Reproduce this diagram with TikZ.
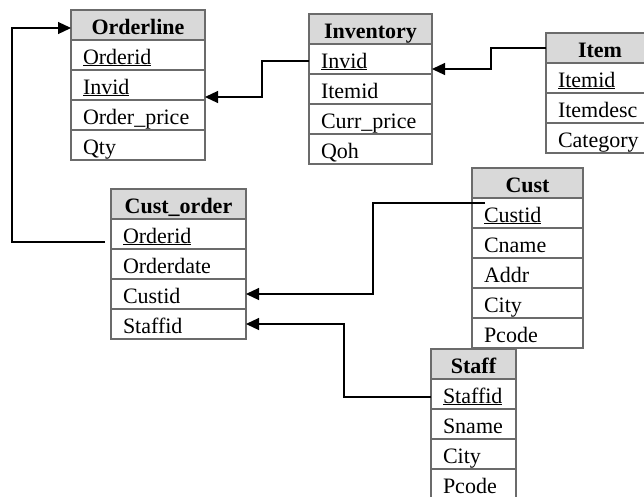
\documentclass[tikz,border=0pt]{standalone}
\usepackage{fontspec}
\setmainfont{Liberation Serif}
\usetikzlibrary{positioning,calc,arrows.meta}
\definecolor{boxgray}{HTML}{6B6B6B}
\definecolor{headgray}{HTML}{D9D9D9}
\tikzset{
	cell/.style={draw=boxgray, line width=1.5pt, outer sep=0pt, inner xsep=12pt, inner ysep=3pt,
		minimum height=30pt, text height=21pt, text depth=3pt, font=\fontsize{22}{26}\selectfont},
	head/.style={cell, fill=headgray, align=center, font=\fontsize{22}{26}\selectfont\bfseries},
	field/.style={cell, align=left},
	fk/.style={line width=1.2pt, -{Triangle[length=13pt,width=12pt]}},
	link/.style={line width=1.2pt}
}
\begin{document}
\begin{tikzpicture}[x=1pt,y=-1pt]
				\clip (0,0) rectangle (644,496);
				
				% Orderline
				\node[head, minimum width=134pt, anchor=north west] (ol-h) at (71,10) {Orderline};
				\node[field, text width=110pt, below=0pt of ol-h] (ol-1) {\underline{Orderid}};
				\node[field, text width=110pt, below=0pt of ol-1] (ol-2) {\underline{Invid}};
				\node[field, text width=110pt, below=0pt of ol-2] (ol-3) {Order\_price};
				\node[field, text width=110pt, below=0pt of ol-3] (ol-4) {Qty};
				
				% Inventory
				\node[head, minimum width=123pt, anchor=north west] (inv-h) at (309,14) {Inventory};
				\node[field, text width=99pt, below=0pt of inv-h] (inv-1) {\underline{Invid}};
				\node[field, text width=99pt, below=0pt of inv-1] (inv-2) {Itemid};
				\node[field, text width=99pt, below=0pt of inv-2] (inv-3) {Curr\_price};
				\node[field, text width=99pt, below=0pt of inv-3] (inv-4) {Qoh};
				
				% Item
				\node[head, minimum width=108pt, anchor=north west] (item-h) at (546,33) {Item};
				\node[field, text width=84pt, below=0pt of item-h] (item-1) {\underline{Itemid}};
				\node[field, text width=84pt, below=0pt of item-1] (item-2) {Itemdesc};
				\node[field, text width=84pt, below=0pt of item-2] (item-3) {Category};
				
				% Cust_order
				\node[head, minimum width=135pt, anchor=north west] (co-h) at (111,189) {Cust\_order};
				\node[field, text width=111pt, below=0pt of co-h] (co-1) {\underline{Orderid}};
				\node[field, text width=111pt, below=0pt of co-1] (co-2) {Orderdate};
				\node[field, text width=111pt, below=0pt of co-2] (co-3) {Custid};
				\node[field, text width=111pt, below=0pt of co-3] (co-4) {Staffid};
				
				% Cust
				\node[head, minimum width=111pt, anchor=north west] (cu-h) at (472,168) {Cust};
				\node[field, text width=87pt, below=0pt of cu-h] (cu-1) {\underline{Custid}};
				\node[field, text width=87pt, below=0pt of cu-1] (cu-2) {Cname};
				\node[field, text width=87pt, below=0pt of cu-2] (cu-3) {Addr};
				\node[field, text width=87pt, below=0pt of cu-3] (cu-4) {City};
				\node[field, text width=87pt, below=0pt of cu-4] (cu-5) {Pcode};
				
				% Staff
				\node[head, minimum width=85pt, anchor=north west] (st-h) at (431,349) {Staff};
				\node[field, text width=61pt, below=0pt of st-h] (st-1) {\underline{Staffid}};
				\node[field, text width=61pt, below=0pt of st-1] (st-2) {Sname};
				\node[field, text width=61pt, below=0pt of st-2] (st-3) {City};
				\node[field, text width=61pt, below=0pt of st-3] (st-4) {Pcode};
				
				% keys
				\coordinate (co-out) at ($(co-1.west)+(-6,8)$);
				\coordinate (cu-out) at ($(cu-1.west)+(13,-10)$);
				\draw[fk] (co-out) -- ++(-93,0) |- ([yshift=-3pt]ol-h.west);
				\draw[fk] ([yshift=-2pt]inv-1.west) -- ++(-47,0) |- ([yshift=-12pt]ol-2.east);
				\draw[fk] (item-h.west) -- ++(-55,0) |- ([yshift=-10pt]inv-1.east);
				\draw[fk] (cu-out) -- ++(-112,0) |- (co-3.east);
				\draw[fk] ([yshift=-3pt]st-1.west) -- ++(-87,0) |- (co-4.east);
\end{tikzpicture}
\end{document}
